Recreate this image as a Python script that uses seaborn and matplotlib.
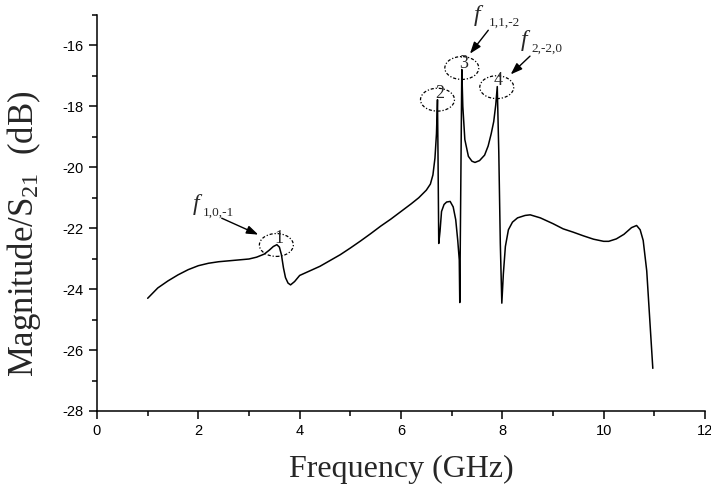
import matplotlib
matplotlib.use("Agg")
import matplotlib.pyplot as plt
import seaborn as sns
import pandas as pd
from matplotlib.patches import Ellipse

freq = [1.00, 1.20, 1.40, 1.60, 1.80, 2.00, 2.20, 2.40, 2.60, 2.80, 3.00, 3.15, 3.30, 3.40, 3.48,
        3.55, 3.60, 3.64, 3.68, 3.72, 3.77, 3.82, 3.90, 4.00, 4.20, 4.40, 4.60, 4.80, 5.00, 5.20,
        5.40, 5.60, 5.80, 6.00, 6.20, 6.35, 6.50, 6.58, 6.63, 6.67, 6.70, 6.72, 6.73, 6.745, 6.77,
        6.80, 6.85, 6.90, 6.97, 7.03, 7.08, 7.12, 7.15, 7.16, 7.20, 7.22, 7.26, 7.33, 7.40, 7.46,
        7.55, 7.65, 7.72, 7.78, 7.83, 7.87, 7.90, 7.93, 7.96, 7.99, 8.02, 8.06, 8.12, 8.20, 8.30,
        8.45, 8.55, 8.75, 9.00, 9.20, 9.40, 9.60, 9.80, 10.00, 10.10, 10.25, 10.40, 10.55, 10.65,
        10.72, 10.78, 10.85, 10.91, 10.97]
mag = [-24.30, -23.96, -23.73, -23.53, -23.36, -23.23, -23.15, -23.10, -23.07, -23.04, -23.01, -22.95, -22.85, -22.72, -22.60,
       -22.54, -22.62, -22.87, -23.30, -23.62, -23.80, -23.86, -23.75, -23.55, -23.40, -23.25, -23.06, -22.87, -22.65, -22.42,
       -22.18, -21.93, -21.70, -21.45, -21.20, -21.00, -20.75, -20.55, -20.25, -19.70, -18.90, -17.78, -19.50, -22.50, -22.10,
       -21.45, -21.22, -21.14, -21.12, -21.30, -21.72, -22.40, -23.04, -24.44, -16.79, -18.00, -19.09, -19.64, -19.80, -19.84,
       -19.78, -19.60, -19.30, -18.90, -18.50, -17.95, -17.35, -19.50, -22.50, -24.46, -23.50, -22.60, -22.05, -21.80, -21.66,
       -21.58, -21.56, -21.66, -21.85, -22.02, -22.13, -22.25, -22.36, -22.43, -22.43, -22.35, -22.20, -21.98, -21.91,
       -22.05, -22.40, -23.40, -25.00, -26.60]

peak_labels = ["1", "2", "3", "4"]
peak_f = [3.54, 6.72, 7.20, 7.89]
peak_v = [-22.55, -17.78, -16.74, -17.37]
digit_f = [3.59, 6.76, 7.233, 7.914]
digit_v = [-22.35, -17.59, -16.58, -17.15]

mode_subs = ["1,0,-1", "1,1,-2", "2,-2,0"]
mode_f_pos = [(1.88, -21.39), (7.445, -15.21), (8.367, -16.02)]
mode_sub_pos = [(2.092, -21.59), (7.723, -15.36), (8.579, -16.20)]
arrow_tail = [(2.461, -21.67), (7.723, -15.50), (8.546, -16.35)]
arrow_head = [(3.183, -22.21), (7.361, -16.27), (8.165, -16.95)]

xticks = [0, 2, 4, 6, 8, 10, 12]
yticks = [-28, -26, -24, -22, -20, -18, -16]

sns.set_style("ticks")
plt.rcParams['font.family'] = ['Liberation Sans', 'DejaVu Sans']
plt.rcParams['mathtext.default'] = 'regular'
plt.rcParams['axes.unicode_minus'] = False

fig = plt.figure(figsize=(7.11, 4.93), dpi=100)
ax = fig.add_axes([97/711, 1-411/493, (705-97)/711, (411-15)/493])

df = pd.DataFrame({"f": freq, "v": mag})
sns.lineplot(data=df, x="f", y="v", ax=ax, color="black", linewidth=1.1, sort=False)

ax.set_xlim(0, 12)
ax.set_ylim(-28, -15)
ax.set_xticks(xticks)
ax.set_yticks(yticks)
ax.set_xticks(range(1, 12, 2), minor=True)
ax.set_yticks(range(-27, -14, 2), minor=True)
ax.tick_params(axis='both', which='major', direction='out', length=6, width=1.1,
               labelsize=10.5, color='black', labelcolor='black')
ax.tick_params(axis='both', which='minor', direction='out', length=3.5, width=1.1, color='black')
for s in ['top', 'right']:
    ax.spines[s].set_visible(False)
for s in ['left', 'bottom']:
    ax.spines[s].set_linewidth(1.1)
    ax.spines[s].set_color('black')

serif = ['Liberation Serif', 'DejaVu Serif']
ax.set_xlabel("Frequency (GHz)", fontsize=23, family=serif, labelpad=12)
ax.set_ylabel("Magnitude/S$_{21}$  (dB)", fontsize=25, family=serif)
ax.yaxis.set_label_coords(-0.088, 0.448)

for pf, pv in zip(peak_f, peak_v):
    ax.add_patch(Ellipse((pf, pv), 0.67, 0.75, fill=False, edgecolor='black',
                         linewidth=0.9, linestyle=(0, (2.5, 1.5, 1, 1.5))))
for lab, df_, dv in zip(peak_labels, digit_f, digit_v):
    ax.text(df_, dv, lab, ha='center', va='center', fontsize=13, family=serif)

for sub, fp, sp, t, h in zip(mode_subs, mode_f_pos, mode_sub_pos, arrow_tail, arrow_head):
    ax.text(fp[0], fp[1], "f", ha='left', va='baseline', fontsize=17, family=serif,
            style='italic', clip_on=False)
    ax.text(sp[0], sp[1], sub, ha='left', va='baseline', fontsize=9.5, family=serif, clip_on=False)
    ax.annotate("", xy=h, xytext=t,
                arrowprops=dict(arrowstyle='-|>,head_length=0.7,head_width=0.25',
                                color='black', lw=1.0, shrinkA=0, shrinkB=0))

fig.savefig("out.png", dpi=100)
